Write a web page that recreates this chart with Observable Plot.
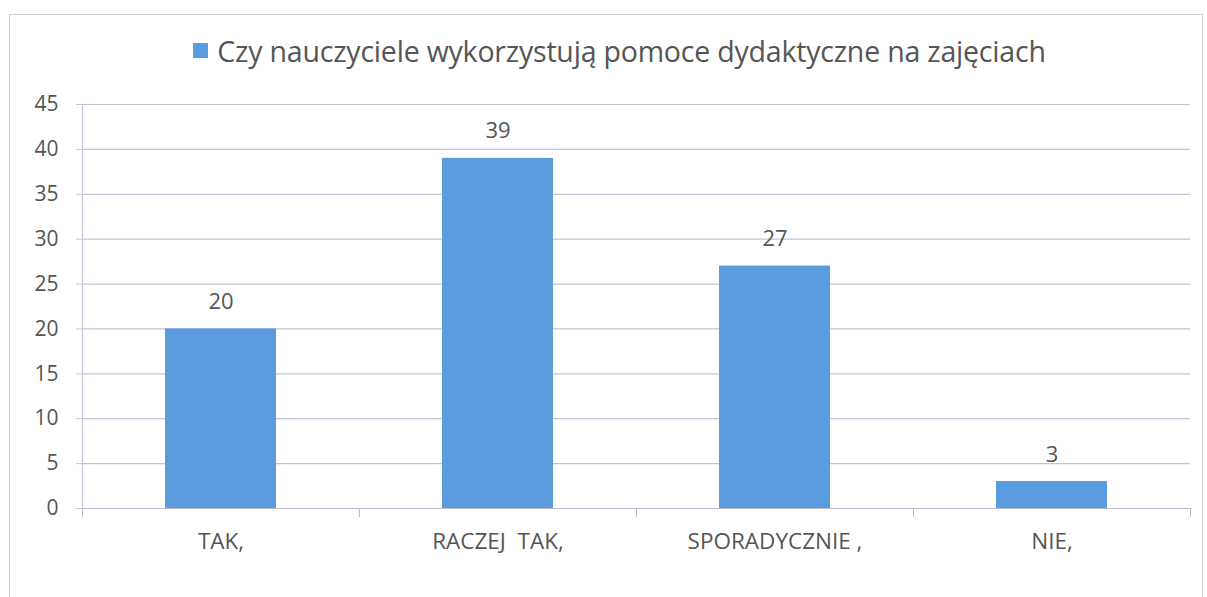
<!DOCTYPE html>
<html>
<head>
<meta charset="utf-8">
<script src="https://cdn.jsdelivr.net/npm/d3@7"></script>
<script src="https://cdn.jsdelivr.net/npm/@observablehq/plot@0.6"></script>
<style>
  html, body { margin: 0; padding: 0; background: #fff; }
  #wrap { position: relative; width: 1207px; height: 597px; overflow: hidden; font-family: "Open Sans", sans-serif; }
  #frame { position: absolute; left: 9px; top: 14px; width: 1192px; height: 600px; border: 1px solid #cfcfd6; border-bottom: none; }
  #legend { position: absolute; left: 0; top: 0; width: 1207px; height: 85px; display: flex; align-items: center; justify-content: center; padding-left: 32px; box-sizing: border-box; padding-top: 16px; }
  #legend .sw { width: 15px; height: 15px; background: #5b9be0; margin-right: 9px; }
  #legend span { font-size: 28.5px; color: #555; letter-spacing: -0.2px; }
  #chart { position: absolute; left: 0; top: 85px; }
</style>
</head>
<body>
<div id="wrap">
  <div id="frame"></div>
  <div id="legend"><div class="sw"></div><span id="legendText"></span></div>
  <div id="chart"></div>
</div>
<script>
const seriesName = "Czy nauczyciele wykorzystują pomoce dydaktyczne na zajęciach";
const categories = ["TAK,", "RACZEJ  TAK,", "SPORADYCZNIE ,", "NIE,"];
const values = [20, 39, 27, 3];
const yTicks = [0, 5, 10, 15, 20, 25, 30, 35, 40, 45];

document.getElementById("legendText").textContent = seriesName;

const data = categories.map((c, i) => ({category: c, value: values[i]}));
const W = 1207, H = 512, mL = 82, mR = 17;
const bw = (W - mL - mR) / categories.length;

const chart = Plot.plot({
  width: W,
  height: H,
  marginLeft: mL,
  marginRight: mR,
  marginTop: 19,
  marginBottom: 89,
  style: {fontFamily: "Open Sans, sans-serif", background: "transparent"},
  x: {domain: categories, paddingInner: 0.6, paddingOuter: 0.3, align: 0.5},
  y: {domain: [0, 45]},
  marks: [
    Plot.ruleY(yTicks, {y: d => d, stroke: "#c4c4d4", strokeWidth: 1.2}),
    Plot.axisY({ticks: yTicks, tickSize: 6, tickPadding: 18, fontSize: 21, stroke: "#c4c4d4", fill: "#555", label: null}),
    Plot.frame({anchor: "left", stroke: "#c4c4d4", strokeWidth: 1.2}),
    Plot.barY(data, {x: "category", y: "value", fill: "#5b9be0"}),
    Plot.ruleY([0], {stroke: "#b8b8c8", strokeWidth: 1.2}),
    Plot.ruleX(categories, {x: d => d, y1: 0, y2: -1, dx: -bw/2, stroke: "#b8b8c8"}),
    Plot.ruleX([categories[categories.length - 1]], {x: d => d, y1: 0, y2: -1, dx: bw/2, stroke: "#b8b8c8"}),
    Plot.text(data, {x: "category", y: "value", text: d => String(d.value), dy: -27, fontSize: 22, fill: "#555"}),
    Plot.axisX({tickSize: 0, tickPadding: 25, fontSize: 22.5, fill: "#555", label: null})
  ]
});
document.getElementById("chart").appendChild(chart);
</script>
</body>
</html>
